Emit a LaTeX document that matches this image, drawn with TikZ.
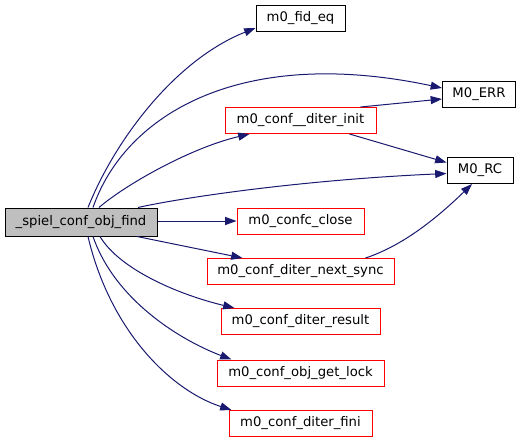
\documentclass[tikz,border=0pt]{standalone}
\usepackage{fontspec}
\setmainfont{DejaVu Sans}
\usetikzlibrary{arrows.meta,calc}
\definecolor{edgeblue}{HTML}{191970}
\definecolor{mainfill}{HTML}{BFBFBF}
\begin{document}
\begin{tikzpicture}[x=0.75pt,y=-0.75pt,
  box/.style={draw=black,line width=0.75pt,rectangle,inner sep=0pt,minimum height=19.5pt,font=\fontsize{9.9pt}{12pt}\selectfont},
  redbox/.style={box,draw=red},
  wd/.style={minimum width=#1*0.75pt},
  edge/.style={draw=edgeblue,line width=0.75pt,-{Triangle[length=8.5pt,width=6pt]}}]
\useasboundingbox (0,0) rectangle (523,443);
\node[box,fill=mainfill,wd=152,minimum height=21pt] (main) at (81,222) {\_spiel\_conf\_obj\_find};
\node[box,wd=89] (fid) at (300.5,18) {m0\_fid\_eq};
\node[box,wd=73] (err) at (479,94) {M0\_ERR};
\node[redbox,wd=151] (init) at (300.5,120.5) {m0\_conf\_\_diter\_init};
\node[box,wd=66] (rc) at (480,170.5) {M0\_RC};
\node[redbox,wd=127] (close) at (300.5,221) {m0\_confc\_close};
\node[redbox,wd=187] (next) at (300.5,271.5) {m0\_conf\_diter\_next\_sync};
\node[redbox,wd=159] (result) at (300.5,321.5) {m0\_conf\_diter\_result};
\node[redbox,wd=167] (lock) at (300.5,373) {m0\_conf\_obj\_get\_lock};
\node[redbox,wd=143] (fini) at (300.5,423.5) {m0\_conf\_diter\_fini};

\draw[edge] ($(main.north)+(7,0)$) .. controls (115,140) and (175,60) .. ($(fid.west)+(0,10)$);
\draw[edge] ($(main.north)+(12,0)$) .. controls (125,115) and (240,45) .. ($(err.west)+(0,-6)$);
\draw[edge] ($(main.north)+(18,0)$) .. controls (125,185) and (190,148) .. ($(init.south west)+(25,0)$);
\draw[edge] ($(main.north)+(57,0)$) .. controls (180,198) and (300,180) .. ($(rc.west)+(0,3)$);
\draw[edge] (main.east |- close.west) -- (close.west);
\draw[edge] ($(main.south)+(56,0)$) -- ($(next.north west)+(36,0)$);
\draw[edge] ($(main.south)+(19,0)$) .. controls (120,270) and (180,295) .. ($(result.north west)+(14,0)$);
\draw[edge] ($(main.south)+(12,0)$) .. controls (115,300) and (180,340) .. ($(lock.north west)+(15,0)$);
\draw[edge] ($(main.south)+(7,0)$) .. controls (110,330) and (170,390) .. ($(fini.north west)+(3,0)$);
\draw[edge] ($(init.north east)+(-16,0)$) -- ($(err.west)+(0,5)$);
\draw[edge] ($(init.south east)+(-27,0)$) -- ($(rc.west)+(0,-8)$);
\draw[edge] ($(next.north)+(65,0)$) .. controls (405,245) and (440,215) .. ($(rc.south)+(-8,0)$);
\end{tikzpicture}
\end{document}
